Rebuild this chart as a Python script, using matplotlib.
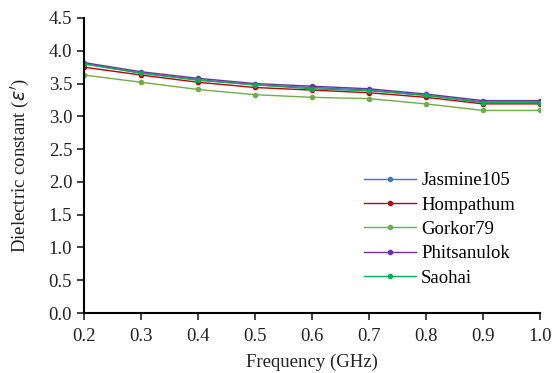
import matplotlib
matplotlib.use("Agg")
import matplotlib.pyplot as plt

freq = [0.2, 0.3, 0.4, 0.5, 0.6, 0.7, 0.8, 0.9, 1.0]
jasmine105 = [3.80, 3.66, 3.56, 3.48, 3.44, 3.40, 3.32, 3.22, 3.22]
hompathum = [3.75, 3.63, 3.52, 3.44, 3.40, 3.36, 3.29, 3.19, 3.19]
gorkor79 = [3.63, 3.52, 3.41, 3.33, 3.29, 3.27, 3.19, 3.09, 3.09]
phitsanulok = [3.82, 3.68, 3.58, 3.50, 3.46, 3.42, 3.34, 3.24, 3.24]
saohai = [3.80, 3.66, 3.55, 3.48, 3.42, 3.39, 3.32, 3.21, 3.21]

series = [
    ("Jasmine105", jasmine105, "#4472C4"),
    ("Hompathum", hompathum, "#C00000"),
    ("Gorkor79", gorkor79, "#70AD47"),
    ("Phitsanulok", phitsanulok, "#7030A0"),
    ("Saohai", saohai, "#00B050"),
]

plt.rcParams["font.family"] = ["Liberation Serif", "DejaVu Serif"]

fig = plt.figure(figsize=(5.52, 3.73), dpi=100)
# axes box: x 84..540 px, y 18..313 px
ax = fig.add_axes([84 / 552, 60 / 373, 456 / 552, 295 / 373])

for name, vals, col in series:
    ax.plot(freq, vals, color=col, marker="o", markersize=3, lw=1.0, label=name)

ax.set_xlim(0.2, 1.0)
ax.set_ylim(0.0, 4.5)
ax.set_xticks([0.2, 0.3, 0.4, 0.5, 0.6, 0.7, 0.8, 0.9, 1.0])
ax.set_yticks([0.0, 0.5, 1.0, 1.5, 2.0, 2.5, 3.0, 3.5, 4.0, 4.5])
ax.xaxis.set_major_formatter(matplotlib.ticker.FormatStrFormatter("%.1f"))
ax.yaxis.set_major_formatter(matplotlib.ticker.FormatStrFormatter("%.1f"))
ax.tick_params(labelsize=13.5, direction="out", length=5, width=1.2, colors="#222222")
ax.tick_params(axis="x", pad=6)
for s in ["top", "right"]:
    ax.spines[s].set_visible(False)
for s in ["left", "bottom"]:
    ax.spines[s].set_linewidth(1.5)

ax.set_xlabel("Frequency (GHz)", fontsize=13.5, labelpad=6, color="#222222")
ax.set_ylabel("Dielectric constant ($\\varepsilon'$)", fontsize=13.5, labelpad=12, color="#222222")

ax.legend(loc="upper left", bbox_to_anchor=(0.614, 0.478), frameon=False,
          fontsize=13.5, handlelength=2.75, handletextpad=0.3,
          labelspacing=0.39, borderpad=0, borderaxespad=0)

fig.savefig("out.png", dpi=100)
